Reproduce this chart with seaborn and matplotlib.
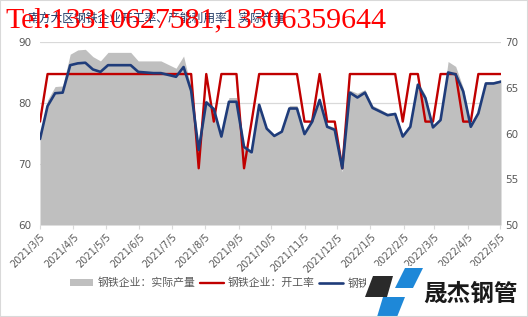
import numpy as np
import pandas as pd
import matplotlib
matplotlib.use("Agg")
import matplotlib.pyplot as plt
import seaborn as sns
from matplotlib.patches import Patch, Polygon, Rectangle
from matplotlib.lines import Line2D
from matplotlib.font_manager import FontProperties

# ---------------- data ----------------
start_date = "2021-03-05"

output = [74.5, 80.5, 82.7, 82.8, 88.0, 88.7, 88.8, 87.6, 86.9, 88.3,
          88.3, 88.3, 88.3, 86.9, 86.9, 86.9, 86.9, 86.3, 85.7, 87.7,
          82.5, 71.8, 80.5, 79.3, 74.8, 80.9, 80.9, 73.0, 71.6, 80.0,
          76.0, 74.8, 75.6, 79.6, 79.6, 75.1, 77.1, 80.8, 76.4, 76.0,
          68.7, 82.1, 81.6, 82.2, 79.6, 79.0, 78.3, 78.5, 74.7, 76.4,
          83.5, 81.3, 76.3, 77.5, 86.8, 86.0, 82.5, 76.4, 78.6, 83.5,
          83.5, 83.8]

utilization = [74.1, 79.5, 81.6, 81.7, 86.2, 86.5, 86.6, 85.5, 85.1, 86.2,
               86.2, 86.2, 86.2, 85.1, 85.0, 84.9, 84.9, 84.6, 84.3, 85.9,
               82.0, 72.3, 80.1, 79.0, 74.5, 80.2, 80.2, 72.8, 71.9, 79.7,
               75.8, 74.6, 75.3, 79.1, 79.1, 74.9, 76.9, 80.5, 76.1, 75.6,
               69.3, 81.7, 80.9, 81.7, 79.2, 78.6, 78.0, 78.2, 74.5, 76.1,
               83.0, 80.8, 76.0, 77.2, 85.0, 84.7, 81.9, 76.1, 78.3, 83.2,
               83.2, 83.5]

operating = [61.3, 66.5, 66.5, 66.5, 66.5, 66.5, 66.5, 66.5, 66.5, 66.5,
             66.5, 66.5, 66.5, 66.5, 66.5, 66.5, 66.5, 66.5, 66.5, 66.5,
             66.5, 56.2, 66.5, 61.3, 66.5, 66.5, 66.5, 56.2, 61.3, 66.5,
             66.5, 66.5, 66.5, 66.5, 66.5, 61.3, 61.3, 66.5, 61.3, 61.3,
             56.2, 66.5, 66.5, 66.5, 66.5, 66.5, 66.5, 66.5, 61.3, 66.5,
             66.5, 61.3, 61.3, 66.5, 66.5, 66.5, 61.3, 61.3, 66.5, 66.5,
             66.5, 66.5]

tick_labels = ["2021/3/5", "2021/4/5", "2021/5/5", "2021/6/5", "2021/7/5",
               "2021/8/5", "2021/9/5", "2021/10/5", "2021/11/5", "2021/12/5",
               "2022/1/5", "2022/2/5", "2022/3/5", "2022/4/5", "2022/5/5"]

left_ticks = [60, 70, 80, 90]
right_ticks = [50, 55, 60, 65, 70]

title = "南方大区钢铁企业开工率、产能利用率、实际产量"
legend_labels = ["钢铁企业：实际产量", "钢铁企业：开工率", "钢铁企业：产能利用率"]
watermark = "Tel:13310627581,13306359644"
logo_text = "晟杰钢管"

# ---------------- styling ----------------
dates = pd.date_range(start_date, periods=len(output), freq="7D")
df = pd.DataFrame({"date": dates, "output": output,
                   "util": utilization, "op": operating})

sns.set_theme(style="white")
plt.rcParams["font.family"] = ["DejaVu Sans", "Noto Sans CJK SC"]

W, H = 528, 317
GRAY_TXT = "#595959"
AREA = "#BFBFBF"
RED = "#C00000"
BLUE = "#1F3C7A"

fig = plt.figure(figsize=(W / 100, H / 100), dpi=100)
fig.patch.set_facecolor("white")


def fx(x):
    return x / W


def fy(y):
    return 1 - y / H


ax = fig.add_axes([fx(40), fy(225), (501 - 40) / W, (225 - 42) / H])

# area (actual output)
ax.fill_between(df["date"], 60, df["output"], color=AREA, lw=0, zorder=2)
ax.set_ylim(60, 90)
ax.set_yticks(left_ticks)
ax.yaxis.grid(True, color="#D9D9D9", lw=0.9, zorder=0)
ax.set_axisbelow(True)
ax.set_xlim(dates[0], dates[-1])

tick_dates = pd.to_datetime(tick_labels, format="%Y/%m/%d")
ax.set_xticks(tick_dates)
ax.set_xticklabels(tick_labels, rotation=45, ha="right", va="top",
                   rotation_mode="anchor")
ax.tick_params(axis="x", length=3, color="#D9D9D9", width=0.8,
               labelsize=7, labelcolor=GRAY_TXT, pad=2, bottom=True)
ax.tick_params(axis="y", length=0, labelsize=7.5, labelcolor=GRAY_TXT, pad=6)
for s in ax.spines.values():
    s.set_visible(False)
ax.set_xlabel("")
ax.set_ylabel("")

# red line (operating rate) on right axis
ax2 = ax.twinx()
sns.lineplot(data=df, x="date", y="op", ax=ax2, color=RED, lw=1.7)
ax2.set_ylim(50, 70)
ax2.set_yticks(right_ticks)
ax2.tick_params(axis="y", length=0, labelsize=7.5, labelcolor=GRAY_TXT, pad=3)
ax2.set_ylabel("")
ax2.grid(False)
for s in ax2.spines.values():
    s.set_visible(False)

# blue line (utilisation) on left scale, drawn on top
ax3 = ax.twinx()
sns.lineplot(data=df, x="date", y="util", ax=ax3, color=BLUE, lw=1.9)
ax3.set_ylim(60, 90)
ax3.set_yticks([])
ax3.set_ylabel("")
ax3.grid(False)
for s in ax3.spines.values():
    s.set_visible(False)
ax.set_xlim(dates[0], dates[-1])

# legend
handles = [Patch(facecolor=AREA, edgecolor="none"),
           Line2D([], [], color=RED, lw=1.7),
           Line2D([], [], color=BLUE, lw=1.9)]
fig.legend(handles, legend_labels, loc="center",
           bbox_to_anchor=(fx(263), fy(283)), ncol=3, frameon=False,
           prop=FontProperties(family=["Noto Sans CJK SC", "DejaVu Sans"], size=7.8),
           labelcolor=GRAY_TXT, handlelength=2.2, handletextpad=0.4,
           columnspacing=0.4)

# title
fig.text(fx(27), fy(18), title, family=["Noto Sans CJK SC", "DejaVu Sans"],
         fontsize=8.5, color="#1F3864", va="center", ha="left", zorder=5)

# watermark
fig.text(fx(5), fy(27), watermark, family=["Liberation Serif", "DejaVu Serif"],
         fontsize=21.5, color="#FF0000", va="baseline", ha="left", zorder=10)

# logo (white backing + shapes + text)
fig.add_artist(Rectangle((fx(366), 0), 1 - fx(366), fy(266), transform=fig.transFigure,
                         facecolor="white", edgecolor="none", zorder=20))


def poly(pts, color):
    fig.add_artist(Polygon([(fx(x), fy(y)) for x, y in pts], closed=True,
                           transform=fig.transFigure, facecolor=color,
                           edgecolor="none", zorder=21))


poly([(373, 276), (393, 276), (387, 297), (365, 297)], "#2A2A2A")
poly([(405, 268), (423, 268), (413, 288), (395, 288)], "#1E88D8")
poly([(383, 297), (405, 297), (397, 317), (377, 317)], "#1E88D8")
fig.text(fx(423), fy(294), logo_text, family=["Noto Sans CJK SC", "DejaVu Sans"],
         fontsize=17, fontweight="bold", color="#1A1A1A", va="center", ha="left",
         zorder=22)

# frame
fig.add_artist(Rectangle((0, 0), 1, 1, transform=fig.transFigure, fill=False,
                         edgecolor="#D9D9D9", lw=1.5, zorder=30))

fig.savefig("out.png", dpi=100)
